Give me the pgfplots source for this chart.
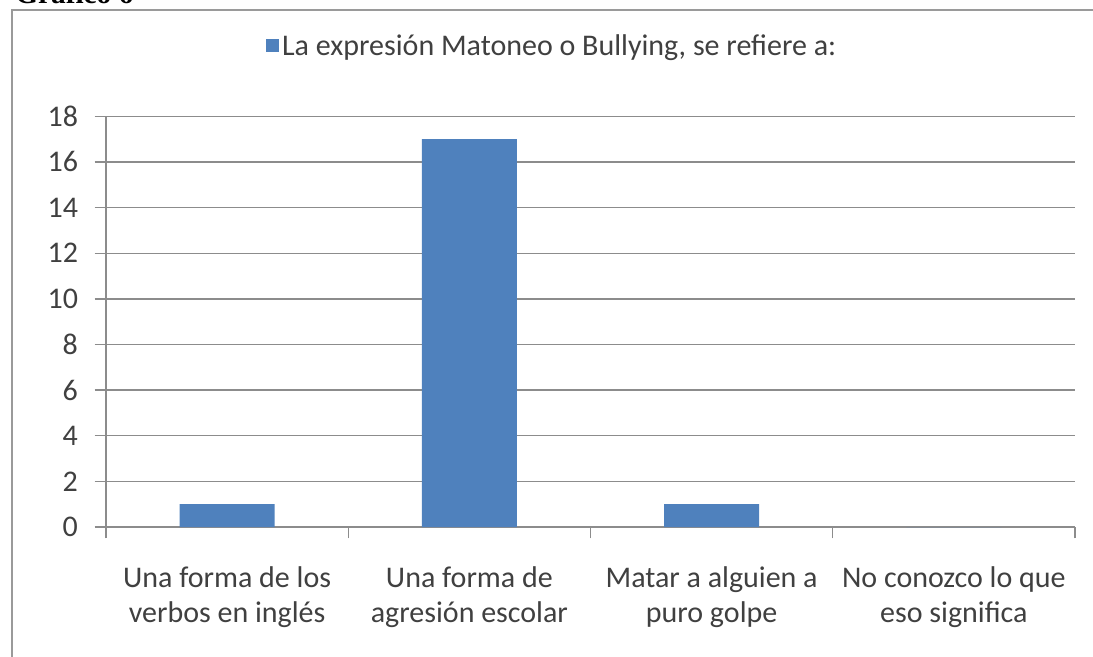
\documentclass[border=0pt]{standalone}
\usepackage{pgfplots}
\pgfplotsset{compat=1.18}
\usepackage{fontspec}
\setmainfont{Carlito}
\newfontfamily\timesbf{Liberation Serif}
\definecolor{barblue}{HTML}{4F81BD}
\definecolor{txt}{HTML}{404040}
\definecolor{gridc}{HTML}{8C8C8C}
\definecolor{framec}{HTML}{9A9A9A}
\begin{document}
\begin{tikzpicture}
\def\u{0.75pt}
\useasboundingbox (0,0) rectangle (1093*\u,-657*\u);
\draw[framec, line width=2.5*\u] (12*\u,-700*\u) -- (12*\u,-10*\u) -- (1100*\u,-10*\u);
\node[anchor=base west, inner sep=0pt, font=\timesbf\fontsize{22}{26}\selectfont\bfseries] at (15*\u,-3*\u) {Gráfico 6};
\begin{axis}[
  at={(106*\u,-527*\u)}, anchor=south west,
  scale only axis, width=726.75pt, height=308pt,
  xmin=-0.5, xmax=3.5, ymin=0, ymax=18,
  ytick={0,2,...,18},
  xtick={-0.5,0.5,1.5,2.5,3.5},
  x tick label as interval,
  xticklabels={{Una forma de los\\verbos en inglés},{Una forma de\\agresión escolar},{Matar a alguien a\\puro golpe},{No conozco lo que\\eso significa}},
  axis lines*=left,
  axis line style={-, draw=gridc, line width=1pt},
  tick align=outside,
  major tick length=8.5pt,
  tick style={draw=gridc, line width=1pt},
  ymajorgrids, grid style={draw=gridc, line width=1pt},
  ticklabel style={text=txt, font=\fontsize{22.5}{26.25}\selectfont},
  xticklabel style={align=center, yshift=-18pt},
  yticklabel style={/pgf/number format/assume math mode=true, xshift=-9pt},
  ybar, bar width=71.25pt,
  legend style={at={(0.461,1.172)}, anchor=center, draw=none, fill=none,
    font=\fontsize{22.5}{25}\selectfont, text=txt},
  legend image code/.code={\fill[barblue] (0pt,-4.9pt) rectangle (9.75pt,4.9pt);},
]
\addplot[fill=barblue, draw=none] coordinates {(0,1) (1,17) (2,1) (3,0)};
\addlegendentry{La expresión Matoneo o Bullying, se refiere a:}
\end{axis}
\end{tikzpicture}
\end{document}
